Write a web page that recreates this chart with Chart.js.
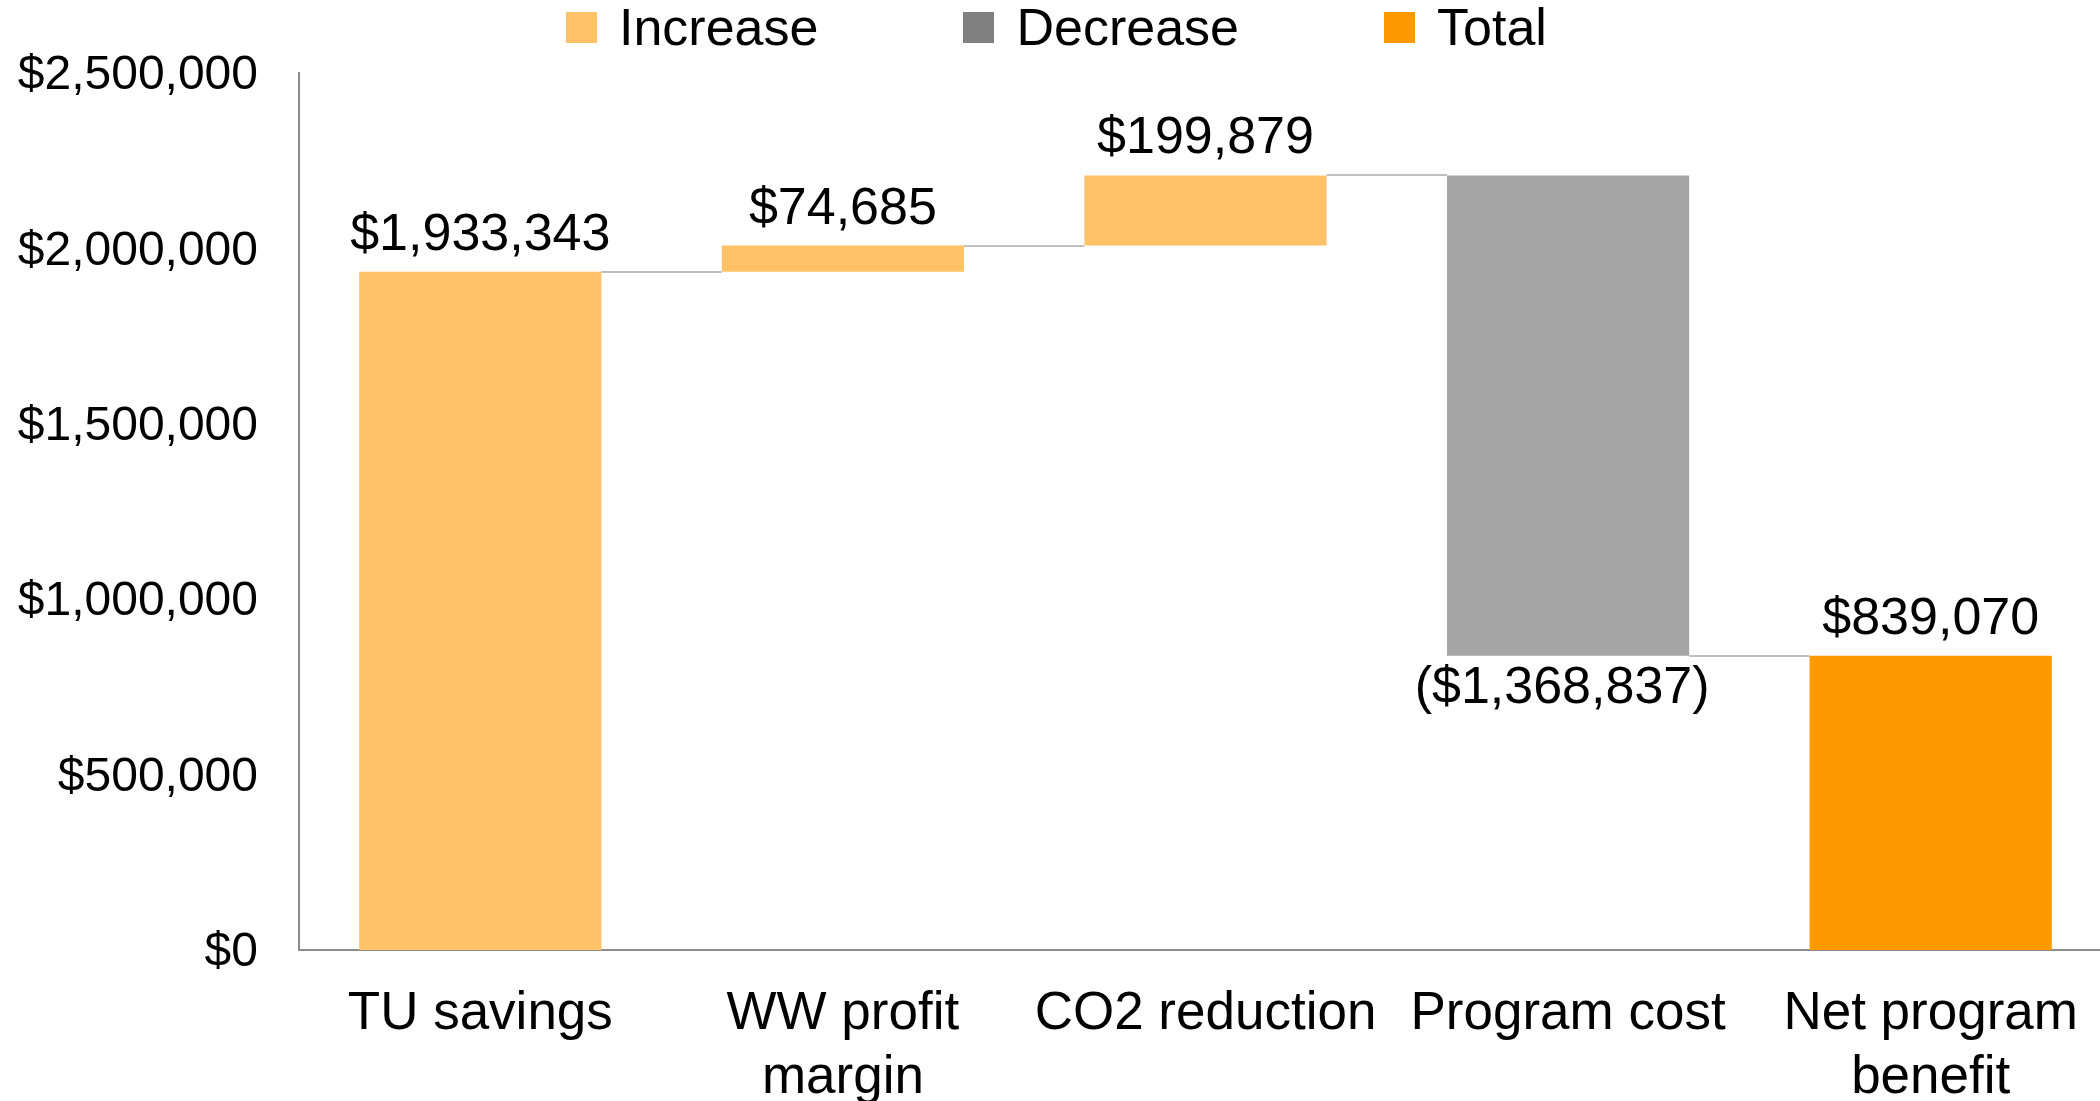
<!DOCTYPE html>
<html lang="en">
<head>
  <meta charset="UTF-8" />
  <title>Net program benefit waterfall</title>
  <script src="https://cdn.jsdelivr.net/npm/chart.js"></script>
  <style>
    html, body {
      margin: 0;
      padding: 0;
      background: #ffffff;
      overflow: hidden;
    }

    body {
      width: 2100px;
      height: 1101px;
      position: relative;
      font-family: "Liberation Sans", Arial, sans-serif;
    }

    #wrap {
      position: absolute;
      left: 0;
      top: 0;
      width: 2112px;
      height: 1101px;
    }

    #legend {
      position: absolute;
      left: 566px;
      top: 0;
      height: 54px;
      display: flex;
      align-items: center;
      gap: 145px;
      font-size: 52px;
      color: #000000;
      z-index: 2;
      white-space: nowrap;
    }

    .item {
      display: flex;
      align-items: center;
    }

    .swatch {
      width: 31px;
      height: 31px;
      margin-right: 22px;
    }
  </style>
</head>
<body>
  <div id="legend"></div>
  <div id="wrap"><canvas id="waterfall"></canvas></div>

  <script>
    // Chart data
    const categories = ["TU savings", ["WW profit", "margin"], "CO2 reduction", "Program cost", ["Net program", "benefit"]];
    const changes = [1933343, 74685, 199879, -1368837];
    const netBenefit = 839070;
    const yTicks = [0, 500000, 1000000, 1500000, 2000000, 2500000];
    const seriesNames = ["Increase", "Decrease", "Total"];

    // Styles
    const barColors = ["#FFC266", "#A6A6A6", "#FF9900"];
    const legendColors = ["#FFC266", "#808080", "#FF9900"];
    const FONT = '"Liberation Sans", Arial, sans-serif';

    // Build the floating bars of the waterfall
    const increase = [], decrease = [], total = [], levels = [];
    let running = 0;
    changes.forEach(v => {
      const next = running + v;
      increase.push(v >= 0 ? [running, next] : null);
      decrease.push(v < 0 ? [next, running] : null);
      total.push(null);
      levels.push(next);
      running = next;
    });
    increase.push(null);
    decrease.push(null);
    total.push([0, netBenefit]);
    const shownValues = [...changes, netBenefit];

    function money(v) {
      const s = "$" + Math.abs(v).toLocaleString("en-US");
      return v < 0 ? "(" + s + ")" : s;
    }

    function barAt(chart, i) {
      for (let d = 0; d < chart.data.datasets.length; d++) {
        if (chart.data.datasets[d].data[i] != null) {
          return chart.getDatasetMeta(d).data[i];
        }
      }
      return null;
    }

    // Connector lines between bars
    const connectors = {
      id: "connectors",
      beforeDatasetsDraw(chart) {
        const ctx = chart.ctx;
        const y = chart.scales.y;
        ctx.save();
        ctx.strokeStyle = "#C0C0C0";
        ctx.lineWidth = 2;
        levels.forEach((level, i) => {
          const a = barAt(chart, i), b = barAt(chart, i + 1);
          if (!a || !b) return;
          const py = Math.round(y.getPixelForValue(level));
          ctx.beginPath();
          ctx.moveTo(a.x + a.width / 2, py);
          ctx.lineTo(b.x - b.width / 2, py);
          ctx.stroke();
        });
        ctx.restore();
      }
    };

    // Value labels above / below bars
    const valueLabels = {
      id: "valueLabels",
      afterDatasetsDraw(chart) {
        const ctx = chart.ctx;
        ctx.save();
        ctx.font = "52px " + FONT;
        ctx.fillStyle = "#000000";
        ctx.textAlign = "center";
        ctx.textBaseline = "alphabetic";
        shownValues.forEach((v, i) => {
          const bar = barAt(chart, i);
          if (!bar) return;
          const top = Math.min(bar.y, bar.base);
          const bottom = Math.max(bar.y, bar.base);
          if (v < 0) {
            ctx.fillText(money(v), bar.x - 6, bottom + 47);
          } else {
            ctx.fillText(money(v), bar.x, top - 22);
          }
        });
        ctx.restore();
      }
    };

    const chart = new Chart(document.getElementById("waterfall"), {
      type: "bar",
      data: {
        labels: categories,
        datasets: [increase, decrease, total].map((data, i) => ({
          label: seriesNames[i],
          data,
          backgroundColor: barColors[i],
          borderWidth: 0,
          categoryPercentage: 1,
          barPercentage: 0.668
        }))
      },
      options: {
        responsive: true,
        maintainAspectRatio: false,
        animation: false,
        layout: { padding: { top: 73, left: 0, right: 0, bottom: 0 } },
        plugins: {
          legend: { display: false },
          tooltip: { enabled: false }
        },
        scales: {
          x: {
            stacked: true,
            grid: { display: false, drawTicks: false },
            border: { display: true, color: "#8C8C8C", width: 2 },
            ticks: {
              color: "#000000",
              font: { family: FONT, size: 53, lineHeight: 1.2 },
              padding: 33,
              autoSkip: false,
              maxRotation: 0,
              minRotation: 0
            },
            afterFit: s => { s.height = 151; }
          },
          y: {
            min: yTicks[0],
            max: yTicks[yTicks.length - 1],
            grid: { display: false, drawTicks: false },
            border: { display: true, color: "#8C8C8C", width: 2 },
            afterBuildTicks: s => { s.ticks = yTicks.map(v => ({ value: v })); },
            ticks: {
              color: "#000000",
              font: { family: FONT, size: 48 },
              padding: 41,
              labelOffset: 3,
              callback: v => money(v)
            },
            afterFit: s => { s.width = 299; }
          }
        }
      },
      plugins: [connectors, valueLabels]
    });

    // HTML legend built from the datasets
    const legend = document.getElementById("legend");
    chart.data.datasets.forEach((ds, i) => {
      const item = document.createElement("div");
      item.className = "item";
      const sw = document.createElement("span");
      sw.className = "swatch";
      sw.style.background = legendColors[i];
      const txt = document.createElement("span");
      txt.textContent = ds.label;
      item.appendChild(sw);
      item.appendChild(txt);
      legend.appendChild(item);
    });
  </script>
</body>
</html>
